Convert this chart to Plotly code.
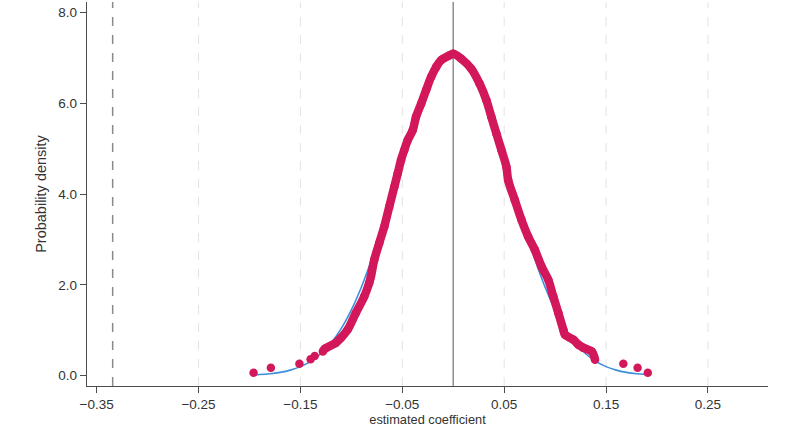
import plotly.graph_objects as go

# ---- data ----
coef = [-0.196, -0.179, -0.151, -0.140, -0.136, -0.128, -0.126,
        -0.1153, -0.1103, -0.1037, -0.0956, -0.0874, -0.0825, -0.0808, -0.0775,
        -0.0726, -0.0677, -0.0628, -0.0578, -0.0545, -0.0512, -0.0480, -0.0446,
        -0.0397, -0.0365, -0.0315, -0.0266, -0.0217, -0.0167, -0.0118, -0.0039,
        0.0000, 0.0079, 0.0177, 0.0259, 0.0325, 0.0374, 0.0424, 0.0473, 0.0522,
        0.0539, 0.0604, 0.0670, 0.0736, 0.0801, 0.0867, 0.0933, 0.0982, 0.1032,
        0.1081, 0.1097, 0.1179, 0.1229, 0.1278, 0.1360, 0.1392,
        0.167, 0.181, 0.191]
density = [0.06, 0.17, 0.26, 0.36, 0.43, 0.53, 0.59,
           0.72, 0.83, 1.01, 1.38, 1.74, 2.04, 2.18, 2.55,
           2.92, 3.28, 3.72, 4.16, 4.45, 4.75, 4.97, 5.19,
           5.41, 5.70, 5.99, 6.29, 6.58, 6.80, 6.95, 7.05,
           7.09, 6.98, 6.76, 6.43, 6.07, 5.70, 5.33, 4.97, 4.60,
           4.31, 3.87, 3.43, 3.06, 2.77, 2.40, 2.11, 1.74, 1.38,
           1.01, 0.90, 0.79, 0.68, 0.61, 0.53, 0.35,
           0.26, 0.17, 0.06]

normal_x = [-0.196, -0.19, -0.18, -0.17, -0.16, -0.15, -0.14, -0.13, -0.12, -0.11,
            -0.10, -0.09, -0.08, -0.07, -0.06, -0.05, -0.04, -0.03, -0.02, -0.01,
            0.0, 0.01, 0.02, 0.03, 0.04, 0.05, 0.06, 0.07, 0.08, 0.09,
            0.10, 0.11, 0.12, 0.13, 0.14, 0.15, 0.16, 0.17, 0.18, 0.19, 0.192]
normal_y = [0.016, 0.023, 0.041, 0.071, 0.120, 0.197, 0.313, 0.481, 0.717, 1.034,
            1.446, 1.957, 2.566, 3.259, 4.011, 4.780, 5.517, 6.168, 6.680, 7.008,
            7.120, 7.008, 6.680, 6.168, 5.517, 4.780, 4.011, 3.259, 2.566, 1.957,
            1.446, 1.034, 0.717, 0.481, 0.313, 0.197, 0.120, 0.071, 0.041, 0.023, 0.020]

x_ticks = [-0.35, -0.25, -0.15, -0.05, 0.05, 0.15, 0.25]
x_tick_labels = ["\u22120.35", "\u22120.25", "\u22120.15", "\u22120.05", "0.05", "0.15", "0.25"]
y_ticks = [0, 2, 4, 6, 8]
y_tick_labels = ["0.0", "2.0", "4.0", "6.0", "8.0"]
observed_coef = -0.3343
reference_coef = 0.0

RED = "#d3175b"
BLUE = "#3b8fdc"

core_lo, core_hi = -0.129, 0.140
core_x = [c for c in coef if core_lo <= c <= core_hi]
core_y = [d for c, d in zip(coef, density) if core_lo <= c <= core_hi]

fig = go.Figure()

# grid lines (light dashed) at tick positions
for t in x_ticks[1:]:
    fig.add_shape(type="line", xref="x", yref="paper", x0=t, x1=t, y0=0, y1=1,
                  line=dict(color="#e3e3e3", width=1, dash="dash"), layer="below")

# observed value (dashed) and zero (solid)
fig.add_shape(type="line", xref="x", yref="paper", x0=observed_coef, x1=observed_coef,
              y0=0, y1=1, line=dict(color="#8a8a8a", width=1.5, dash="dash"), layer="below")
fig.add_shape(type="line", xref="x", yref="paper", x0=reference_coef, x1=reference_coef,
              y0=0, y1=1, line=dict(color="#8f8f8f", width=1.5), layer="below")

fig.add_trace(go.Scatter(x=normal_x, y=normal_y, mode="lines", line_shape="spline",
                         line=dict(color=BLUE, width=1.6), hoverinfo="skip", showlegend=False))
fig.add_trace(go.Scatter(x=core_x, y=core_y, mode="lines", line_shape="spline",
                         line=dict(color=RED, width=8.5), showlegend=False))
fig.add_trace(go.Scatter(x=coef, y=density, mode="markers",
                         marker=dict(color=RED, size=8.5, line=dict(width=0)), showlegend=False))

fig.update_layout(
    width=800, height=427,
    margin=dict(l=87, r=32, t=2, b=41),
    plot_bgcolor="white", paper_bgcolor="white",
    font=dict(family="Liberation Sans, Arial, sans-serif", color="#333333", size=13),
    xaxis=dict(range=[-0.3595, 0.309], tickvals=x_ticks, ticktext=x_tick_labels,
               showgrid=False, zeroline=False, showline=True, linecolor="#4d4d4d",
               linewidth=1.3, ticks="outside", ticklen=6, tickcolor="#4d4d4d",
               tickfont=dict(size=13.5, color="#333333"),
               title=dict(text="estimated coefficient", font=dict(size=12.8, color="#333333"),
                          standoff=5)),
    yaxis=dict(range=[-0.23, 8.23], tickvals=y_ticks, ticktext=y_tick_labels,
               showgrid=False, zeroline=False, showline=True, linecolor="#4d4d4d",
               linewidth=1.3, ticks="outside", ticklen=6, tickcolor="#4d4d4d",
               tickfont=dict(size=13.5, color="#333333"),
               title=dict(text="Probability density", font=dict(size=14.5, color="#333333"),
                          standoff=8)),
)

fig.write_html("out.html")
